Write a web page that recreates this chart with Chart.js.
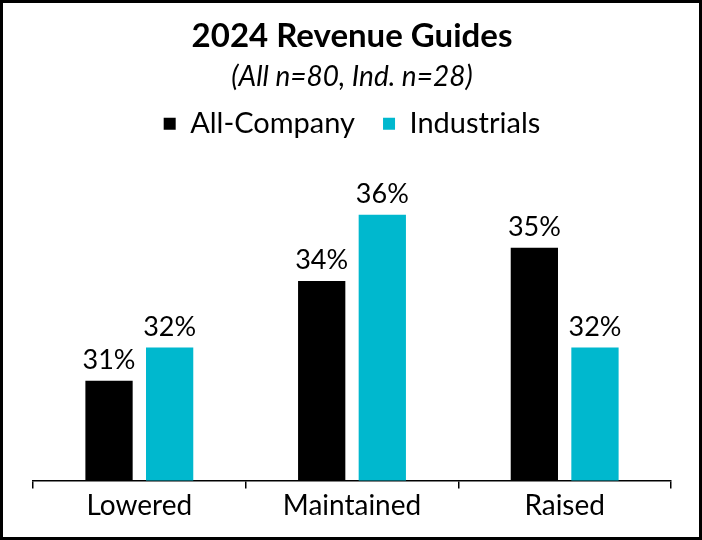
<!DOCTYPE html>
<html>
<head>
<meta charset="utf-8">
<script src="https://cdn.jsdelivr.net/npm/chart.js@4"></script>
<style>
  html, body { margin: 0; padding: 0; background: #fff; }
  #frame { width: 702px; height: 540px; box-sizing: border-box; border: 3px solid #000; }
  #plot { display: block; }
</style>
</head>
<body>
<div id="frame"><canvas id="plot" width="696" height="534"></canvas></div>
<script>
const categories = ['Lowered', 'Maintained', 'Raised'];
const allCompany = [31, 34, 35];
const industrials = [32, 36, 32];

const COLORS = {
  black: '#000000',
  cyan: '#00B8CE'
};

Chart.defaults.font.family = 'Lato, "Open Sans", sans-serif';
Chart.defaults.color = '#000';

// percent labels above each bar
const barLabels = {
  id: 'barLabels',
  afterDatasetsDraw(chart) {
    const ctx = chart.ctx;
    ctx.save();
    ctx.font = '27px Lato, "Open Sans", sans-serif';
    ctx.fillStyle = '#000';
    ctx.textAlign = 'center';
    ctx.textBaseline = 'bottom';
    chart.data.datasets.forEach((ds, i) => {
      chart.getDatasetMeta(i).data.forEach((bar, j) => {
        ctx.fillText(ds.data[j] + '%', bar.x, bar.y - 7);
      });
    });
    ctx.restore();
  }
};

const ctx = document.getElementById('plot');

const config = {
  type: 'bar',
  data: {
    labels: categories,
    datasets: [
      {
        label: 'All-Company',
        data: allCompany,
        backgroundColor: COLORS.black,
        categoryPercentage: 0.57,
        barPercentage: 0.78
      },
      {
        label: 'Industrials',
        data: industrials,
        backgroundColor: COLORS.cyan,
        categoryPercentage: 0.57,
        barPercentage: 0.78
      }
    ]
  },
  options: {
    responsive: false,
    animation: false,
    layout: { padding: { left: 30, right: 28, top: 14, bottom: 13 } },
    plugins: {
      title: {
        display: true,
        text: '2024 Revenue Guides',
        font: { size: 33, weight: 'bold' },
        padding: { top: 0, bottom: 4 }
      },
      subtitle: {
        display: true,
        text: '(All n=80, Ind. n=28)',
        font: { size: 28, style: 'italic' },
        padding: { top: 0, bottom: -13 }
      },
      legend: {
        position: 'top',
        labels: {
          boxWidth: 12,
          boxHeight: 12,
          font: { size: 29 },
          padding: 28
        }
      },
      tooltip: { enabled: false }
    },
    scales: {
      x: {
        grid: {
          drawOnChartArea: false,
          drawTicks: true,
          tickLength: 8,
          color: '#000',
          lineWidth: 1.5
        },
        border: { color: '#000', width: 1.5 },
        ticks: { font: { size: 28 }, color: '#000', padding: 1 }
      },
      y: {
        display: false,
        min: 28,
        max: 38
      }
    }
  },
  plugins: [barLabels]
};

chart = new Chart(ctx, config);
</script>
</body>
</html>
